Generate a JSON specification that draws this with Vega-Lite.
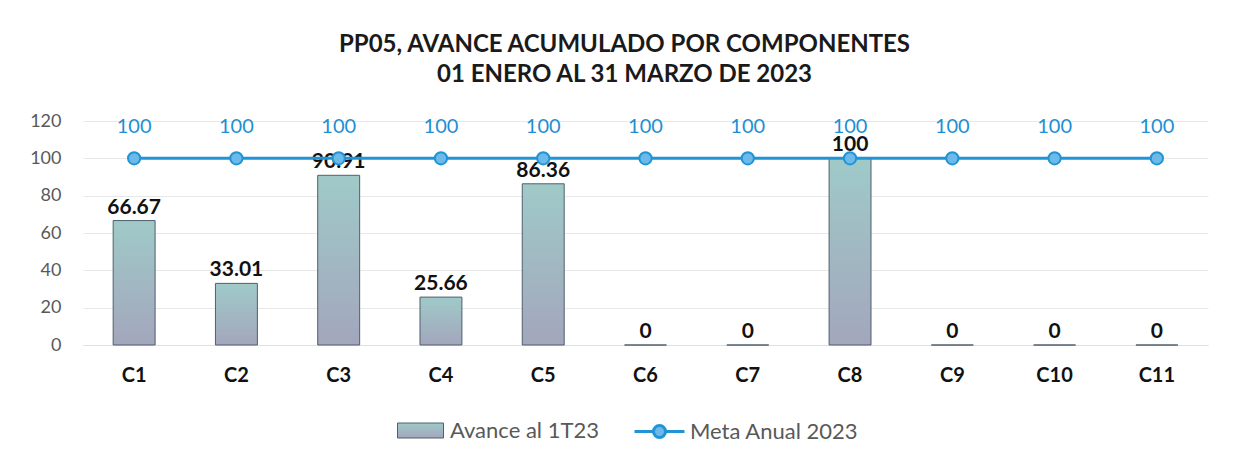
{
  "$schema": "https://vega.github.io/schema/vega-lite/v6.json",
  "autosize": "none",
  "width": 1125,
  "height": 224,
  "padding": {"left": 83, "top": 121, "right": 25, "bottom": 120},
  "background": "white",
  "config": {
    "font": "Lato",
    "view": {"stroke": null},
    "axisY": {
      "labelFontSize": 18,
      "labelColor": "#595959",
      "labelPadding": 22,
      "ticks": false,
      "domain": false,
      "gridColor": "#e8e8e8",
      "gridWidth": 1
    },
    "legend": {
      "labelFontSize": 22,
      "labelColor": "#595959",
      "labelOffset": 4,
      "labelLimit": 400,
      "symbolSize": 2500,
      "padding": 0
    }
  },
  "title": {
    "text": ["PP05, AVANCE ACUMULADO POR COMPONENTES", "01 ENERO AL 31 MARZO DE 2023"],
    "fontSize": 24,
    "fontWeight": "bold",
    "color": "#1a1a1a",
    "lineHeight": 30,
    "anchor": "middle",
    "dx": -21,
    "offset": 25
  },
  "data": {
    "values": [
      {"comp": "C1", "avance": 66.67, "meta": 100},
      {"comp": "C2", "avance": 33.01, "meta": 100},
      {"comp": "C3", "avance": 90.91, "meta": 100},
      {"comp": "C4", "avance": 25.66, "meta": 100},
      {"comp": "C5", "avance": 86.36, "meta": 100},
      {"comp": "C6", "avance": 0, "meta": 100},
      {"comp": "C7", "avance": 0, "meta": 100},
      {"comp": "C8", "avance": 100, "meta": 100},
      {"comp": "C9", "avance": 0, "meta": 100},
      {"comp": "C10", "avance": 0, "meta": 100},
      {"comp": "C11", "avance": 0, "meta": 100}
    ]
  },
  "encoding": {
    "x": {
      "field": "comp",
      "type": "nominal",
      "sort": null,
      "title": null,
      "scale": {"paddingInner": 0.59, "paddingOuter": 0.295},
      "axis": {
        "labelAngle": 0,
        "labelFont": "Lato",
        "labelFontSize": 20,
        "labelFontWeight": "bold",
        "labelColor": "#111111",
        "labelPadding": 20,
        "ticks": false,
        "domainColor": "#e0e0e0",
        "domainWidth": 1
      }
    }
  },
  "layer": [
    {
      "mark": {
        "type": "bar",
        "strokeWidth": 1,
        "fill": {"gradient": "linear", "x1": 0, "y1": 0, "x2": 0, "y2": 1, "stops": [{"offset": 0, "color": "#9fcac8"}, {"offset": 1, "color": "#a3a6bc"}]}
      },
      "encoding": {
        "y": {
          "field": "avance",
          "type": "quantitative",
          "title": null,
          "scale": {"domain": [0, 120], "nice": false},
          "axis": {"values": [0, 20, 40, 60, 80, 100, 120]}
        },
        "stroke": {
          "datum": "Avance al 1T23",
          "scale": {"range": ["#4f5f6e"]},
          "legend": {
            "title": null,
            "orient": "none",
            "legendX": 312,
            "legendY": 284,
            "symbolType": "M-0.92,-0.3H0.92V0.3H-0.92Z",
            "symbolStrokeWidth": 1
          }
        }
      }
    },
    {
      "mark": {"type": "text", "baseline": "bottom", "dy": -3, "fontSize": 21, "fontWeight": "bold", "color": "#111111"},
      "encoding": {
        "y": {
          "field": "avance",
          "type": "quantitative",
          "title": null,
          "scale": {"domain": [0, 120], "nice": false},
          "axis": {"values": [0, 20, 40, 60, 80, 100, 120]}
        },
        "text": {"field": "avance", "type": "quantitative"}
      }
    },
    {
      "mark": {"type": "line", "strokeWidth": 3},
      "encoding": {
        "y": {
          "field": "meta",
          "type": "quantitative",
          "title": null,
          "scale": {"domain": [0, 120], "nice": false},
          "axis": {"values": [0, 20, 40, 60, 80, 100, 120]}
        },
        "color": {
          "datum": "Meta Anual 2023",
          "scale": {"range": ["#1f95d6"]},
          "legend": {
            "title": null,
            "orient": "none",
            "legendX": 550,
            "legendY": 284,
            "symbolType": "M-1,0H-0.24M0.24,0H1M0.24,0A0.24,0.24 0 1,1 -0.24,0A0.24,0.24 0 1,1 0.24,0Z",
            "symbolStrokeWidth": 3,
            "symbolFillColor": "#6cb9ea"
          }
        }
      }
    },
    {
      "mark": {"type": "point", "filled": true, "size": 150, "fill": "#6cb9ea", "stroke": "#1f95d6", "strokeWidth": 2, "opacity": 1},
      "encoding": {
        "y": {
          "field": "meta",
          "type": "quantitative",
          "title": null,
          "scale": {"domain": [0, 120], "nice": false},
          "axis": {"values": [0, 20, 40, 60, 80, 100, 120]}
        }
      }
    },
    {
      "mark": {"type": "text", "baseline": "bottom", "dy": -21, "fontSize": 20, "color": "#1f8fd2"},
      "encoding": {
        "y": {
          "field": "meta",
          "type": "quantitative",
          "title": null,
          "scale": {"domain": [0, 120], "nice": false},
          "axis": {"values": [0, 20, 40, 60, 80, 100, 120]}
        },
        "text": {"field": "meta", "type": "quantitative"}
      }
    }
  ]
}
